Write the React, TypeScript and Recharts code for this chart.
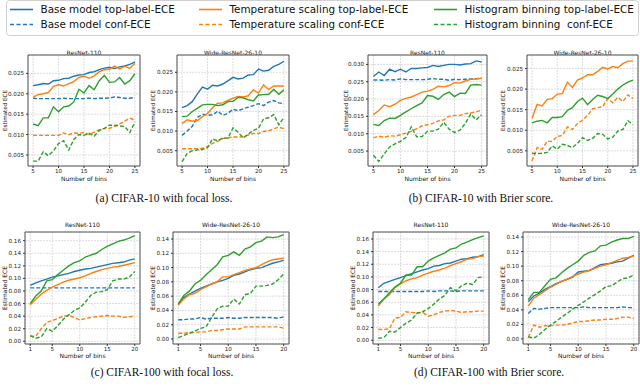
import React from 'react';
import { LineChart, Line, XAxis, YAxis, CartesianGrid, ReferenceArea } from 'recharts';

const BLUE = '#1f77b4';
const ORANGE = '#ff7f0e';
const GREEN = '#2ca02c';
const SANS = 'DejaVu Sans';
const SERIF = 'Liberation Serif';

// x values
const binsC10 = [5, 6, 7, 8, 9, 10, 11, 12, 13, 14, 15, 16, 17, 18, 19, 20, 21, 22, 23, 24, 25];
const binsC100 = [1, 2, 3, 4, 5, 6, 7, 8, 9, 10, 11, 12, 13, 14, 15, 16, 17, 18, 19, 20];

// (a) CIFAR-10, focal loss, ResNet-110
const a1BaseTop = [0.0220, 0.0222, 0.0225, 0.0224, 0.0232, 0.0233, 0.0237, 0.0238, 0.0243, 0.0246, 0.0247, 0.0252, 0.0254, 0.0259, 0.0263, 0.0265, 0.0262, 0.0266, 0.0268, 0.0272, 0.0278];
const a1BaseConf = [0.0189, 0.0188, 0.0188, 0.0188, 0.0188, 0.0188, 0.0189, 0.0188, 0.0188, 0.0188, 0.0188, 0.0189, 0.0188, 0.0189, 0.0189, 0.0190, 0.0192, 0.0191, 0.0189, 0.0189, 0.0191];
const a1TempTop = [0.0192, 0.0198, 0.0200, 0.0203, 0.0218, 0.0222, 0.0219, 0.0225, 0.0230, 0.0240, 0.0243, 0.0238, 0.0244, 0.0254, 0.0259, 0.0260, 0.0268, 0.0261, 0.0267, 0.0262, 0.0275];
const a1TempConf = [0.0098, 0.0098, 0.0098, 0.0098, 0.0098, 0.0098, 0.0104, 0.0100, 0.0104, 0.0103, 0.0105, 0.0100, 0.0106, 0.0112, 0.0115, 0.0115, 0.0120, 0.0126, 0.0133, 0.0140, 0.0136];
const a1HistTop = [0.0126, 0.0122, 0.0141, 0.0141, 0.0168, 0.0156, 0.0168, 0.0170, 0.0180, 0.0211, 0.0202, 0.0220, 0.0210, 0.0232, 0.0245, 0.0228, 0.0229, 0.0240, 0.0224, 0.0232, 0.0249];
const a1HistConf = [0.0035, 0.0035, 0.0058, 0.0048, 0.0060, 0.0078, 0.0085, 0.0062, 0.0088, 0.0100, 0.0098, 0.0103, 0.0096, 0.0110, 0.0115, 0.0123, 0.0123, 0.0121, 0.0120, 0.0105, 0.0131];

// (a) CIFAR-10, focal loss, Wide-ResNet-26-10
const a2BaseTop = [0.0160, 0.0165, 0.0175, 0.0195, 0.0212, 0.0207, 0.0217, 0.0215, 0.0220, 0.0228, 0.0237, 0.0233, 0.0235, 0.0243, 0.0244, 0.0258, 0.0253, 0.0255, 0.0265, 0.0270, 0.0278];
const a2BaseConf = [0.0089, 0.0100, 0.0112, 0.0135, 0.0143, 0.0141, 0.0141, 0.0151, 0.0140, 0.0145, 0.0156, 0.0152, 0.0157, 0.0161, 0.0165, 0.0170, 0.0165, 0.0174, 0.0178, 0.0172, 0.0170];
const a2TempTop = [0.0119, 0.0129, 0.0125, 0.0127, 0.0137, 0.0145, 0.0160, 0.0171, 0.0172, 0.0178, 0.0184, 0.0188, 0.0187, 0.0190, 0.0205, 0.0197, 0.0218, 0.0206, 0.0215, 0.0215, 0.0215];
const a2TempConf = [0.0055, 0.0055, 0.0055, 0.0055, 0.0056, 0.0060, 0.0069, 0.0074, 0.0081, 0.0083, 0.0085, 0.0085, 0.0085, 0.0090, 0.0094, 0.0094, 0.0099, 0.0101, 0.0106, 0.0110, 0.0106];
const a2HistTop = [0.0137, 0.0138, 0.0150, 0.0158, 0.0167, 0.0168, 0.0168, 0.0165, 0.0167, 0.0175, 0.0176, 0.0186, 0.0185, 0.0180, 0.0177, 0.0192, 0.0193, 0.0194, 0.0206, 0.0194, 0.0205];
const a2HistConf = [0.0022, 0.0043, 0.0050, 0.0052, 0.0053, 0.0058, 0.0080, 0.0075, 0.0083, 0.0082, 0.0108, 0.0097, 0.0083, 0.0092, 0.0102, 0.0107, 0.0131, 0.0134, 0.0142, 0.0116, 0.0135];

// (b) CIFAR-10, Brier score, ResNet-110
const b1BaseTop = [0.0265, 0.0278, 0.0268, 0.0286, 0.0279, 0.0286, 0.0278, 0.0288, 0.0288, 0.0290, 0.0291, 0.0297, 0.0294, 0.0297, 0.0300, 0.0300, 0.0298, 0.0301, 0.0302, 0.0310, 0.0307];
const b1BaseConf = [0.0255, 0.0255, 0.0254, 0.0256, 0.0255, 0.0258, 0.0256, 0.0256, 0.0256, 0.0256, 0.0257, 0.0259, 0.0257, 0.0257, 0.0254, 0.0257, 0.0256, 0.0257, 0.0258, 0.0259, 0.0260];
const b1TempTop = [0.0155, 0.0167, 0.0183, 0.0178, 0.0185, 0.0196, 0.0202, 0.0206, 0.0213, 0.0220, 0.0223, 0.0228, 0.0237, 0.0235, 0.0239, 0.0247, 0.0246, 0.0252, 0.0257, 0.0258, 0.0260];
const b1TempConf = [0.0088, 0.0093, 0.0090, 0.0094, 0.0093, 0.0097, 0.0102, 0.0107, 0.0115, 0.0123, 0.0126, 0.0130, 0.0137, 0.0140, 0.0151, 0.0153, 0.0153, 0.0158, 0.0160, 0.0163, 0.0168];
const b1HistTop = [0.0127, 0.0124, 0.0138, 0.0145, 0.0144, 0.0153, 0.0163, 0.0172, 0.0181, 0.0189, 0.0210, 0.0208, 0.0199, 0.0213, 0.0220, 0.0207, 0.0217, 0.0216, 0.0240, 0.0242, 0.0240];
const b1HistConf = [0.0038, 0.0020, 0.0042, 0.0062, 0.0071, 0.0078, 0.0089, 0.0120, 0.0091, 0.0092, 0.0107, 0.0108, 0.0113, 0.0133, 0.0113, 0.0104, 0.0110, 0.0130, 0.0157, 0.0140, 0.0155];

// (b) CIFAR-10, Brier score, Wide-ResNet-26-10
const b2TempTop = [0.0129, 0.0163, 0.0159, 0.0175, 0.0177, 0.0188, 0.0189, 0.0217, 0.0204, 0.0222, 0.0227, 0.0235, 0.0235, 0.0243, 0.0253, 0.0249, 0.0255, 0.0252, 0.0262, 0.0268, 0.0268];
const b2TempConf = [0.0025, 0.0058, 0.0054, 0.0073, 0.0073, 0.0085, 0.0087, 0.0108, 0.0102, 0.0116, 0.0125, 0.0136, 0.0152, 0.0155, 0.0157, 0.0177, 0.0167, 0.0180, 0.0170, 0.0186, 0.0177];
const b2HistTop = [0.0118, 0.0122, 0.0124, 0.0118, 0.0131, 0.0131, 0.0133, 0.0148, 0.0155, 0.0170, 0.0178, 0.0162, 0.0175, 0.0185, 0.0182, 0.0177, 0.0188, 0.0200, 0.0210, 0.0217, 0.0222];
const b2HistConf = [0.0044, 0.0043, 0.0044, 0.0046, 0.0062, 0.0054, 0.0066, 0.0063, 0.0058, 0.0068, 0.0082, 0.0075, 0.0080, 0.0092, 0.0090, 0.0079, 0.0083, 0.0098, 0.0102, 0.0123, 0.0114];

// (c) CIFAR-100, focal loss, ResNet-110
const c1BaseTop = [0.089, 0.093, 0.096, 0.099, 0.102, 0.104, 0.106, 0.108, 0.111, 0.113, 0.115, 0.116, 0.118, 0.120, 0.122, 0.124, 0.125, 0.126, 0.129, 0.131];
const c1BaseConf = [0.085, 0.085, 0.085, 0.085, 0.085, 0.085, 0.085, 0.085, 0.085, 0.085, 0.085, 0.085, 0.085, 0.085, 0.085, 0.085, 0.085, 0.085, 0.085, 0.085];
const c1TempTop = [0.058, 0.067, 0.075, 0.081, 0.086, 0.090, 0.094, 0.097, 0.099, 0.101, 0.104, 0.108, 0.111, 0.114, 0.116, 0.118, 0.119, 0.121, 0.123, 0.125];
const c1TempConf = [0.008, 0.008, 0.020, 0.030, 0.033, 0.036, 0.040, 0.041, 0.038, 0.034, 0.036, 0.038, 0.039, 0.040, 0.041, 0.040, 0.040, 0.038, 0.039, 0.040];
const c1HistTop = [0.060, 0.072, 0.080, 0.096, 0.098, 0.106, 0.113, 0.120, 0.125, 0.128, 0.134, 0.137, 0.140, 0.146, 0.151, 0.155, 0.159, 0.161, 0.164, 0.168];
const c1HistConf = [0.009, 0.005, 0.007, 0.020, 0.016, 0.025, 0.035, 0.042, 0.049, 0.053, 0.062, 0.073, 0.078, 0.079, 0.082, 0.096, 0.099, 0.099, 0.102, 0.111];

// (c) CIFAR-100, focal loss, Wide-ResNet-26-10
const c2BaseTop = [0.048, 0.058, 0.063, 0.067, 0.071, 0.074, 0.077, 0.080, 0.082, 0.085, 0.089, 0.091, 0.094, 0.097, 0.099, 0.100, 0.103, 0.106, 0.108, 0.110];
const c2BaseConf = [0.027, 0.027, 0.028, 0.028, 0.030, 0.028, 0.029, 0.029, 0.029, 0.030, 0.029, 0.029, 0.030, 0.030, 0.030, 0.030, 0.030, 0.030, 0.029, 0.031];
const c2TempTop = [0.048, 0.056, 0.062, 0.064, 0.069, 0.073, 0.077, 0.080, 0.087, 0.087, 0.090, 0.093, 0.096, 0.098, 0.100, 0.104, 0.108, 0.111, 0.112, 0.113];
const c2TempConf = [0.008, 0.008, 0.009, 0.009, 0.010, 0.010, 0.012, 0.012, 0.013, 0.014, 0.014, 0.014, 0.017, 0.017, 0.017, 0.017, 0.017, 0.017, 0.017, 0.015];
const c2HistTop = [0.049, 0.061, 0.067, 0.077, 0.082, 0.090, 0.097, 0.104, 0.115, 0.117, 0.122, 0.117, 0.126, 0.129, 0.135, 0.137, 0.143, 0.142, 0.143, 0.146];
const c2HistConf = [0.002, 0.005, 0.008, 0.011, 0.015, 0.017, 0.030, 0.042, 0.046, 0.046, 0.056, 0.049, 0.062, 0.064, 0.074, 0.074, 0.075, 0.077, 0.083, 0.091];

// (d) CIFAR-100, Brier score, ResNet-110
const d1BaseTop = [0.083, 0.090, 0.093, 0.096, 0.099, 0.102, 0.105, 0.108, 0.111, 0.113, 0.117, 0.118, 0.121, 0.122, 0.125, 0.128, 0.129, 0.131, 0.132, 0.135];
const d1BaseConf = [0.077, 0.077, 0.077, 0.077, 0.077, 0.077, 0.077, 0.077, 0.077, 0.078, 0.077, 0.078, 0.078, 0.078, 0.077, 0.078, 0.078, 0.078, 0.078, 0.078];
const d1TempTop = [0.054, 0.065, 0.072, 0.083, 0.089, 0.094, 0.097, 0.099, 0.103, 0.106, 0.109, 0.111, 0.114, 0.118, 0.121, 0.124, 0.128, 0.129, 0.132, 0.133];
const d1TempConf = [0.017, 0.017, 0.018, 0.035, 0.036, 0.045, 0.044, 0.043, 0.044, 0.038, 0.040, 0.044, 0.046, 0.047, 0.046, 0.044, 0.045, 0.045, 0.046, 0.046];
const d1HistTop = [0.057, 0.065, 0.075, 0.084, 0.090, 0.103, 0.103, 0.116, 0.116, 0.125, 0.130, 0.134, 0.138, 0.144, 0.146, 0.152, 0.155, 0.159, 0.162, 0.165];
const d1HistConf = [0.003, 0.004, 0.014, 0.013, 0.020, 0.027, 0.032, 0.043, 0.045, 0.050, 0.057, 0.065, 0.071, 0.083, 0.078, 0.086, 0.090, 0.088, 0.099, 0.100];

// (d) CIFAR-100, Brier score, Wide-ResNet-26-10
const d2BaseTop = [0.051, 0.059, 0.063, 0.068, 0.072, 0.076, 0.079, 0.082, 0.085, 0.092, 0.093, 0.094, 0.098, 0.102, 0.103, 0.104, 0.106, 0.107, 0.111, 0.115];
const d2BaseConf = [0.035, 0.042, 0.041, 0.042, 0.043, 0.043, 0.043, 0.043, 0.043, 0.043, 0.044, 0.043, 0.043, 0.043, 0.043, 0.043, 0.043, 0.044, 0.043, 0.043];
const d2TempTop = [0.045, 0.056, 0.061, 0.066, 0.071, 0.075, 0.079, 0.082, 0.086, 0.089, 0.092, 0.094, 0.097, 0.100, 0.102, 0.105, 0.108, 0.111, 0.112, 0.114];
const d2TempConf = [0.002, 0.019, 0.016, 0.018, 0.018, 0.019, 0.019, 0.020, 0.022, 0.024, 0.024, 0.025, 0.026, 0.026, 0.027, 0.027, 0.028, 0.030, 0.030, 0.028];
const d2HistTop = [0.054, 0.064, 0.064, 0.073, 0.082, 0.084, 0.091, 0.097, 0.102, 0.107, 0.115, 0.119, 0.121, 0.128, 0.129, 0.133, 0.136, 0.138, 0.138, 0.141];
const d2HistConf = [0.003, 0.001, 0.006, 0.013, 0.019, 0.024, 0.030, 0.035, 0.041, 0.046, 0.051, 0.056, 0.061, 0.066, 0.072, 0.073, 0.078, 0.083, 0.084, 0.088];

const ticksC10 = [5, 10, 15, 20, 25];
const ticksC100 = [1, 5, 10, 15, 20];

const SERIES = [
  { key: 'baseTop', label: 'Base model top-label-ECE', color: BLUE, dash: false },
  { key: 'baseConf', label: 'Base model conf-ECE', color: BLUE, dash: true },
  { key: 'tempTop', label: 'Temperature scaling top-label-ECE', color: ORANGE, dash: false },
  { key: 'tempConf', label: 'Temperature scaling conf-ECE', color: ORANGE, dash: true },
  { key: 'histTop', label: 'Histogram binning top-label-ECE', color: GREEN, dash: false },
  { key: 'histConf', label: 'Histogram binning  conf-ECE', color: GREEN, dash: true },
];

const toRows = (bins: number[], cols: Record<string, number[] | undefined>) =>
  bins.map((b, i) => {
    const row: Record<string, number> = { bins: b };
    Object.keys(cols).forEach(k => {
      const arr = cols[k];
      if (arr) row[k] = arr[i];
    });
    return row;
  });

const TOP = { top: 55, h: 111, xDomain: [4, 26], xTicks: ticksC10, dec: 3, titleY: 54.5, xlabY: 181, ylabFs: 5.6 };
const BOT = { top: 232, h: 112, xDomain: [0.05, 20.95], xTicks: ticksC100, dec: 2, titleY: 227, xlabY: 358, ylabFs: 6 };

const PANELS = [
  {
    ...TOP, left: 28, w: 112, title: 'ResNet-110', ylabX: 5,
    yDomain: [0.0023, 0.0295], yTicks: [0.005, 0.01, 0.015, 0.02, 0.025],
    rows: toRows(binsC10, { baseTop: a1BaseTop, baseConf: a1BaseConf, tempTop: a1TempTop, tempConf: a1TempConf, histTop: a1HistTop, histConf: a1HistConf }),
  },
  {
    ...TOP, left: 177, w: 112, title: 'Wide-ResNet-26-10', ylabX: 153,
    yDomain: [0.0011, 0.0294], yTicks: [0.005, 0.01, 0.015, 0.02, 0.025],
    rows: toRows(binsC10, { baseTop: a2BaseTop, baseConf: a2BaseConf, tempTop: a2TempTop, tempConf: a2TempConf, histTop: a2HistTop, histConf: a2HistConf }),
  },
  {
    ...TOP, left: 368, w: 119, title: 'ResNet-110', ylabX: 346,
    yDomain: [0.0007, 0.0327], yTicks: [0.005, 0.01, 0.015, 0.02, 0.025, 0.03],
    rows: toRows(binsC10, { baseTop: b1BaseTop, baseConf: b1BaseConf, tempTop: b1TempTop, tempConf: b1TempConf, histTop: b1HistTop, histConf: b1HistConf }),
  },
  {
    ...TOP, left: 527, w: 111, title: 'Wide-ResNet-26-10', ylabX: 503,
    yDomain: [0.0013, 0.0283], yTicks: [0.005, 0.01, 0.015, 0.02, 0.025],
    rows: toRows(binsC10, { tempTop: b2TempTop, tempConf: b2TempConf, histTop: b2HistTop, histConf: b2HistConf }),
  },
  {
    ...BOT, left: 25, w: 115, title: 'ResNet-110', ylabX: 4,
    yDomain: [-0.0043, 0.1738], yTicks: [0, 0.02, 0.04, 0.06, 0.08, 0.1, 0.12, 0.14, 0.16],
    rows: toRows(binsC100, { baseTop: c1BaseTop, baseConf: c1BaseConf, tempTop: c1TempTop, tempConf: c1TempConf, histTop: c1HistTop, histConf: c1HistConf }),
  },
  {
    ...BOT, left: 173, w: 116, title: 'Wide-ResNet-26-10', ylabX: 152,
    yDomain: [-0.007, 0.1498], yTicks: [0, 0.02, 0.04, 0.06, 0.08, 0.1, 0.12, 0.14],
    rows: toRows(binsC100, { baseTop: c2BaseTop, baseConf: c2BaseConf, tempTop: c2TempTop, tempConf: c2TempConf, histTop: c2HistTop, histConf: c2HistConf }),
  },
  {
    ...BOT, left: 373, w: 116, title: 'ResNet-110', ylabX: 352,
    yDomain: [-0.006, 0.171], yTicks: [0, 0.02, 0.04, 0.06, 0.08, 0.1, 0.12, 0.14, 0.16],
    rows: toRows(binsC100, { baseTop: d1BaseTop, baseConf: d1BaseConf, tempTop: d1TempTop, tempConf: d1TempConf, histTop: d1HistTop, histConf: d1HistConf }),
  },
  {
    ...BOT, left: 523, w: 116, title: 'Wide-ResNet-26-10', ylabX: 502,
    yDomain: [-0.007, 0.147], yTicks: [0, 0.02, 0.04, 0.06, 0.08, 0.1, 0.12, 0.14],
    rows: toRows(binsC100, { baseTop: d2BaseTop, baseConf: d2BaseConf, tempTop: d2TempTop, tempConf: d2TempConf, histTop: d2HistTop, histConf: d2HistConf }),
  },
];

const CAPTIONS = [
  { text: '(a) CIFAR-10 with focal loss.', x: 164, y: 202 },
  { text: '(b) CIFAR-10 with Brier score.', x: 481, y: 202 },
  { text: '(c) CIFAR-100 with focal loss.', x: 162, y: 376 },
  { text: '(d) CIFAR-100 with Brier score.', x: 489, y: 376 },
];

const AX_W = 30;
const AX_H = 20;
const PAD = 2;
const tickStyle = { fontSize: 5.6, fill: '#222', fontFamily: SANS };

const Panel = ({ p }: { p: any }) => {
  const keys = SERIES.filter(s => p.rows[0][s.key] !== undefined);
  return (
    <div style={{ position: 'absolute', left: p.left - AX_W, top: p.top - PAD }}>
      <LineChart
        width={p.w + AX_W + PAD}
        height={p.h + PAD + AX_H}
        data={p.rows}
        margin={{ top: PAD, right: PAD, left: 0, bottom: 0 }}
      >
        <CartesianGrid stroke="#dcdcdc" strokeDasharray="2 1" />
        <XAxis
          dataKey="bins" type="number" domain={p.xDomain} ticks={p.xTicks} allowDataOverflow
          height={AX_H} tickSize={2} tickMargin={1} axisLine={false} interval={0}
          tick={tickStyle} tickLine={{ stroke: '#333' }}
        />
        <YAxis
          type="number" domain={p.yDomain} ticks={p.yTicks} allowDataOverflow
          width={AX_W} tickSize={2} tickMargin={2} axisLine={false} interval={0}
          tick={tickStyle} tickLine={{ stroke: '#333' }}
          tickFormatter={(v: number) => v.toFixed(p.dec)}
        />
        {keys.map(s => (
          <Line
            key={s.key} type="linear" dataKey={s.key} stroke={s.color} strokeWidth={1.4}
            strokeDasharray={s.dash ? '4 2' : undefined} dot={false} isAnimationActive={false}
          />
        ))}
        <ReferenceArea
          x1={p.xDomain[0]} x2={p.xDomain[1]} y1={p.yDomain[0]} y2={p.yDomain[1]}
          fill="none" stroke="#555" strokeWidth={1} ifOverflow="visible"
        />
      </LineChart>
    </div>
  );
};

const LEG_COLS = [10, 199, 434];

export default function App() {
  return (
    <div style={{ position: 'absolute', left: 0, top: 0, width: 640, height: 386, background: '#fff', overflow: 'hidden' }}>
      <svg width={640} height={386} style={{ position: 'absolute', left: 0, top: 0 }}>
        <rect x={6.5} y={0.5} width={632} height={35} rx={3} fill="#fff" stroke="#d0d0d0" />
        {SERIES.map((s, i) => {
          const cx = LEG_COLS[Math.floor(i / 2)];
          const cy = i % 2 === 0 ? 9.5 : 24.5;
          return (
            <g key={s.key}>
              <line x1={cx} x2={cx + 23} y1={cy} y2={cy} stroke={s.color} strokeWidth={1.6} strokeDasharray={s.dash ? '4 2.5' : undefined} />
              <text x={cx + 30.5} y={cy + 3.7} fontSize={10.4} fontFamily={SANS} fill="#111" style={{ whiteSpace: 'pre' }}>{s.label}</text>
            </g>
          );
        })}
        {PANELS.map((p, i) => (
          <g key={i}>
            <text x={p.left + p.w / 2} y={p.titleY} textAnchor="middle" fontSize={6} fontFamily={SANS} fill="#111">{p.title}</text>
            <text x={p.left + p.w / 2} y={p.xlabY} textAnchor="middle" fontSize={6} fontFamily={SANS} fill="#111">Number of bins</text>
            <text
              x={p.ylabX} y={p.top + p.h / 2} textAnchor="middle" dominantBaseline="central"
              transform={`rotate(-90, ${p.ylabX}, ${p.top + p.h / 2})`}
              fontSize={p.ylabFs} fontFamily={SANS} fill="#111"
            >Estimated ECE</text>
          </g>
        ))}
        {CAPTIONS.map(c => (
          <text key={c.text} x={c.x} y={c.y} textAnchor="middle" fontSize={11.5} fontFamily={SERIF} fill="#111">{c.text}</text>
        ))}
      </svg>
      {PANELS.map((p, i) => <Panel key={i} p={p} />)}
    </div>
  );
}
